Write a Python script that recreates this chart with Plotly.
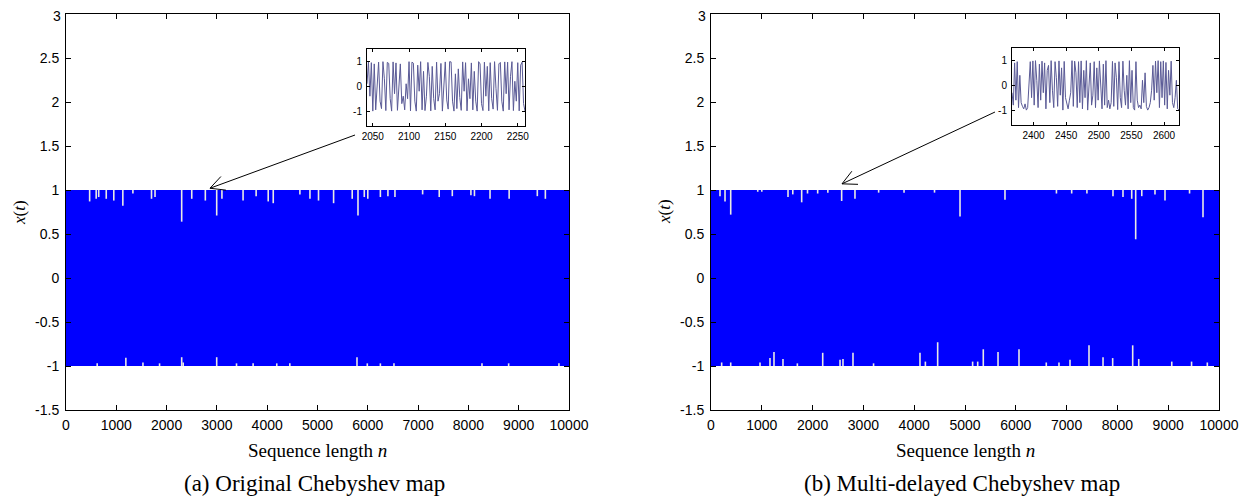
import plotly.graph_objects as go
import numpy as np

# screenshot is 1253x498; the page body has an 8 px margin before the figure
SCREEN_W, SCREEN_H = 1253, 498
OFF = 8
W, H = SCREEN_W - OFF, SCREEN_H - OFF

# ---------------- data ----------------
seq_range = [0, 10000]
band_low, band_high = -1.0, 1.0

# panel (a): white notches (positions n, value reached)
a_top_n = [470, 600, 650, 800, 950, 1130, 1330, 1700, 1770, 2300, 2500, 2770, 2996, 3100,
           3520, 3780, 4020, 4120, 4650, 4850, 5020, 5320, 5690, 5805, 5930, 6000, 6250,
           6400, 6540, 7090, 7420, 7680, 8050, 8120, 8430, 8810, 9370, 9530]
a_top_y = [0.87, 0.90, 0.92, 0.90, 0.88, 0.82, 0.96, 0.90, 0.92, 0.64, 0.90, 0.88, 0.71, 0.90,
           0.88, 0.93, 0.87, 0.85, 0.95, 0.90, 0.88, 0.85, 0.90, 0.71, 0.92, 0.90, 0.92,
           0.93, 0.92, 0.95, 0.92, 0.93, 0.94, 0.93, 0.90, 0.90, 0.93, 0.90]
a_bot_n = [620, 1190, 1530, 1860, 2300, 2330, 2996, 3390, 3720, 4190, 4450, 5785,
           5990, 6250, 6520, 8270, 8800, 9800]
a_bot_y = [-0.97, -0.905, -0.96, -0.97, -0.90, -0.96, -0.90, -0.97, -0.97, -0.97, -0.97, -0.90,
           -0.97, -0.97, -0.97, -0.97, -0.97, -0.97]

# panel (b)
b_top_n = [177, 276, 388, 920, 1000, 1516, 1610, 1785, 1900, 2100, 2300, 2572, 2834,
           3300, 3800, 4400, 4902, 5787, 6800, 7100, 7400, 7913, 8110, 8282, 8360,
           8480, 8740, 8937, 9420, 9685]
b_top_y = [0.93, 0.87, 0.72, 0.98, 0.98, 0.92, 0.95, 0.86, 0.96, 0.96, 0.97, 0.875, 0.90,
           0.97, 0.97, 0.97, 0.70, 0.89, 0.96, 0.96, 0.96, 0.93, 0.92, 0.90, 0.44,
           0.93, 0.95, 0.88, 0.96, 0.69]
b_bot_n = [210, 388, 965, 1161, 1240, 1417, 1700, 2199, 2540, 2598, 2795, 3200, 4114, 4220,
           4462, 5150, 5250, 5360, 5650, 6063, 6600, 6850, 7067, 7441, 7717, 7907, 8301,
           8420, 9070, 9460, 9770]
b_bot_y = [-0.96, -0.96, -0.96, -0.91, -0.84, -0.92, -0.97, -0.85, -0.93, -0.92, -0.85, -0.97,
           -0.85, -0.95, -0.73, -0.95, -0.95, -0.81, -0.84, -0.81, -0.96, -0.96, -0.93, -0.765,
           -0.90, -0.91, -0.765, -0.92, -0.95, -0.95, -0.96]

# insets (zoomed segments of the sequences)
inset_a_start, inset_a_step = 2042, 2
inset_a_y = [0.1, 0.98, -0.4, 0.95, -1.0, 0.9, -0.95, 0.2, 0.97, -0.6, -0.9, 0.99, 0.3, -0.98,
             0.96, 0.92, -0.5, -1.0, 0.98, -0.3, 0.94, -0.97, -0.2, 0.9, -0.7, -0.4, -0.95, 0.1,
             -0.5, 0.99, -0.99, 0.97, 0.93, -0.6, -1.0, 0.85, -0.2, 0.99, -0.95, 0.6, -0.98,
             -0.4, 0.96, 0.4, -0.99, 0.8, -0.5, -0.95, 0.97, -0.6, -0.3, 0.92, -1.0, 0.2, 0.98,
             -0.55, -0.92, 0.99, 0.98, -0.6, -1.0, 0.5, -0.9, 0.7, -0.45, -0.97, 0.98, -0.2,
             0.95, -0.99, 0.3, -0.5, 0.94, -0.95, 0.6, -0.6, -1.0, 0.99, 0.9, -0.7, -0.98, 0.97,
             -0.4, 0.8, -0.99, 0.95, -0.5, -0.92, 0.99, -0.1, -0.97, 0.9, 0.96, -0.6, -1.0, 0.98,
             -0.3, 0.97, -0.95, 0.4, 0.99, -0.98, 0.2, -0.6, 0.95, -0.99, 0.85, 0.97, -0.7, -1.0]
inset_a_xticks = [2050, 2100, 2150, 2200, 2250]

inset_b_start, inset_b_step = 2367, 2
inset_b_y = [-0.3, -0.8, 0.9, -0.6, 0.95, -0.9, 0.4, -0.7, -0.85, -0.95, -0.75, -1.0, -0.9, 0.3,
             0.95, -0.5, 0.98, -0.8, 0.99, 0.2, -0.9, 0.85, -0.6, 0.97, -0.3, 0.9, -0.95, 0.6,
             0.8, -0.7, 0.99, -0.2, -0.9, 0.95, 0.3, -0.85, 0.98, -0.4, 0.7, -1.0, 0.96, -0.5,
             -0.8, -0.95, -0.6, -0.3, 0.99, -0.85, 0.97, 0.5, -0.9, 0.95, -0.7, 0.98, -0.95, 0.6,
             -0.5, 0.99, -1.0, 0.2, 0.9, -0.8, -0.4, 0.95, -0.9, 0.7, -0.6, 0.98, -0.3, -0.95,
             0.85, -0.8, 0.99, -0.9, -0.6, -0.95, -0.7, 0.96, -0.85, 0.9, 0.3, -0.98, 0.95, -0.5,
             -0.9, 0.97, -0.2, -0.8, 0.4, -0.95, 0.99, -0.7, 0.6, -0.9, -1.0, 0.95, -0.6, -0.9,
             -0.8, -0.95, 0.2, -0.7, 0.5, -0.85, -1.0, -0.9, -0.7, -0.2, 0.8, -0.6, 0.97, -0.3,
             0.99, -0.9, 0.95, -0.5, 0.98, -0.8, 0.92, -0.95, 0.6, -0.4, 0.97, -0.7, -0.9, -0.5,
             0.2, -0.95, -1.0]
inset_b_xticks = [2400, 2450, 2500, 2550, 2600]

main_xticks = [0, 1000, 2000, 3000, 4000, 5000, 6000, 7000, 8000, 9000, 10000]
main_yticks = [-1.5, -1, -0.5, 0, 0.5, 1, 1.5, 2, 2.5, 3]
main_yticktext = ["-1.5", "-1", "-0.5", "0", "0.5", "1", "1.5", "2", "2.5", "3"]
inset_yticks = [-1, 0, 1]
inset_yticktext = ["-1", "0", "1"]

# arrows: (tip n, tip x(t), tail n, tail x(t))
arrow_a = (2863, 1.02, 5746, 1.625)
arrow_b = (2579, 1.07, 5590, 1.886)

captions = ["(a) Original Chebyshev map", "(b) Multi-delayed Chebyshev map"]
xtitle = "Sequence length <i>n</i>"
ytitle = "<i>x</i>(<i>t</i>)"

# ---------------- layout geometry (screen pixels) ----------------
panels = [dict(l=66, r=569, t=14, b=410), dict(l=711, r=1219, t=14, b=410)]
insets = [dict(l=367, r=525, t=49, b=126), dict(l=1012, r=1179, t=48, b=125)]


def px_x(x):
    return (x - OFF) / W


def px_y(y):
    return 1 - (y - OFF) / H


def dom_x(p):
    return [px_x(p["l"]), px_x(p["r"])]


def dom_y(p):
    return [px_y(p["b"]), px_y(p["t"])]


fig = go.Figure()
BLUE = "#0000ff"
SPIKE = "#e9e9e4"


def spikes(ns, ys, edge):
    xs, yy = [], []
    for n, v in zip(ns, ys):
        xs += [n, n, None]
        yy += [edge, v, None]
    return xs, yy


for k, (tn, ty, bn, by) in enumerate([(a_top_n, a_top_y, a_bot_n, a_bot_y),
                                       (b_top_n, b_top_y, b_bot_n, b_bot_y)]):
    xa = "x" if k == 0 else "x2"
    ya = "y" if k == 0 else "y2"
    fig.add_trace(go.Scatter(x=seq_range, y=[band_low, band_low], mode="lines",
                             line=dict(width=0, color=BLUE), xaxis=xa, yaxis=ya,
                             showlegend=False, hoverinfo="skip"))
    fig.add_trace(go.Scatter(x=seq_range, y=[band_high, band_high], mode="lines", fill="tonexty",
                             fillcolor=BLUE, line=dict(width=0, color=BLUE), xaxis=xa, yaxis=ya,
                             showlegend=False, hoverinfo="skip"))
    sx, sy = spikes(tn, ty, band_high)
    fig.add_trace(go.Scatter(x=sx, y=sy, mode="lines", line=dict(color=SPIKE, width=1.6),
                             xaxis=xa, yaxis=ya, showlegend=False, hoverinfo="skip"))
    sx, sy = spikes(bn, by, band_low)
    fig.add_trace(go.Scatter(x=sx, y=sy, mode="lines", line=dict(color=SPIKE, width=1.6),
                             xaxis=xa, yaxis=ya, showlegend=False, hoverinfo="skip"))

INSET_LINE = "#5a5a96"
ia_x = [inset_a_start + inset_a_step * i for i in range(len(inset_a_y))]
ib_x = [inset_b_start + inset_b_step * i for i in range(len(inset_b_y))]
fig.add_trace(go.Scatter(x=ia_x, y=inset_a_y, mode="lines", line=dict(color=INSET_LINE, width=1),
                         xaxis="x3", yaxis="y3", showlegend=False))
fig.add_trace(go.Scatter(x=ib_x, y=inset_b_y, mode="lines", line=dict(color=INSET_LINE, width=1),
                         xaxis="x4", yaxis="y4", showlegend=False))

TICK_FAMILY = "Liberation Sans Narrow, Liberation Sans, Arial"
TICKFONT = dict(family=TICK_FAMILY, size=14, color="black")
INSETFONT = dict(family=TICK_FAMILY, size=10, color="black")

common_ax = dict(showline=True, linecolor="black", linewidth=1, mirror="ticks", ticks="inside",
                 showgrid=False, zeroline=False, tickcolor="black", ticklen=5, tickwidth=1,
                 automargin=False, ticklabeloverflow="allow")

layout = dict(width=W, height=H, margin=dict(l=0, r=0, t=0, b=0, pad=0, autoexpand=False),
              paper_bgcolor="white", plot_bgcolor="white", showlegend=False, autosize=False)

# the top label ("3") sits at the very edge of the page; it is drawn as an
# annotation anchored to the edge so it is not clipped
top_label = main_yticktext[-1]
yticktext_axis = main_yticktext[:-1] + [""]

for k, p in enumerate(panels):
    sfx = "" if k == 0 else "2"
    layout["xaxis" + sfx] = dict(common_ax, domain=dom_x(p), range=seq_range, tickvals=main_xticks,
                                 ticktext=[str(t) for t in main_xticks], tickfont=TICKFONT,
                                 anchor="y" + sfx, ticklabelstandoff=2)
    layout["yaxis" + sfx] = dict(common_ax, domain=dom_y(p), range=[-1.5, 3], tickvals=main_yticks,
                                 ticktext=yticktext_axis, tickfont=TICKFONT, anchor="x" + sfx,
                                 ticklabelstandoff=3)

for k, (p, start, step, ys, xt) in enumerate([(insets[0], inset_a_start, inset_a_step, inset_a_y, inset_a_xticks),
                                              (insets[1], inset_b_start, inset_b_step, inset_b_y, inset_b_xticks)]):
    sfx = str(k + 3)
    end = start + step * (len(ys) - 1)
    layout["xaxis" + sfx] = dict(common_ax, domain=dom_x(p), range=[start, end], tickvals=xt,
                                 ticktext=[str(t) for t in xt], tickfont=INSETFONT, ticklen=3,
                                 anchor="y" + sfx, ticklabelstandoff=1)
    layout["yaxis" + sfx] = dict(common_ax, domain=dom_y(p), range=[-1.6, 1.5], tickvals=inset_yticks,
                                 ticktext=inset_yticktext, tickfont=INSETFONT, ticklen=3,
                                 anchor="x" + sfx, ticklabelstandoff=2)

fig.update_layout(**layout)

# titles & captions
SERIF = "Liberation Serif, Times New Roman, serif"
annotations = []
shapes = []
for k, p in enumerate(panels):
    cxp = (p["l"] + p["r"]) / 2
    annotations.append(dict(text=xtitle, x=px_x(cxp), y=px_y(450), xref="paper", yref="paper",
                            showarrow=False, font=dict(family=SERIF, size=19, color="black"),
                            xanchor="center", yanchor="middle"))
    annotations.append(dict(text=captions[k], x=px_x(cxp - 3), y=px_y(483), xref="paper", yref="paper",
                            showarrow=False, font=dict(family=SERIF, size=23, color="black"),
                            xanchor="center", yanchor="middle"))
    annotations.append(dict(text=ytitle, x=px_x(p["l"] - 47), y=px_y((p["t"] + p["b"]) / 2),
                            xref="paper", yref="paper", showarrow=False, textangle=-90,
                            font=dict(family=SERIF, size=17, color="black"),
                            xanchor="center", yanchor="middle"))
    annotations.append(dict(text=top_label, x=px_x(p["l"] - 4), y=1, xref="paper", yref="paper",
                            showarrow=False, font=TICKFONT, xanchor="right", yanchor="top",
                            borderpad=0, yshift=1))

# arrows with open heads (computed in pixel space, converted back to data)
for k, (p, arr) in enumerate(zip(panels, [arrow_a, arrow_b])):
    xr = "x" if k == 0 else "x2"
    yr = "y" if k == 0 else "y2"
    tn, tv, qn, qv = arr
    sx = (p["r"] - p["l"]) / (seq_range[1] - seq_range[0])
    sy = (p["b"] - p["t"]) / 4.5

    def to_px(n, v):
        return p["l"] + n * sx, p["b"] - (v + 1.5) * sy

    def to_data(px, py):
        return (px - p["l"]) / sx, (p["b"] - py) / sy - 1.5

    tx, ty = to_px(tn, tv)
    qx, qy = to_px(qn, qv)
    ang = np.arctan2(qy - ty, qx - tx)
    shapes.append(dict(type="line", xref=xr, yref=yr, x0=qn, y0=qv, x1=tn, y1=tv,
                       line=dict(color="black", width=1)))
    for d in (+0.47, -0.47):
        hx = tx + 16 * np.cos(ang + d)
        hy = ty + 16 * np.sin(ang + d)
        hn, hv = to_data(hx, hy)
        shapes.append(dict(type="line", xref=xr, yref=yr, x0=tn, y0=tv, x1=hn, y1=hv,
                           line=dict(color="black", width=1)))

fig.update_layout(annotations=annotations, shapes=shapes)
fig.write_html("out.html")
